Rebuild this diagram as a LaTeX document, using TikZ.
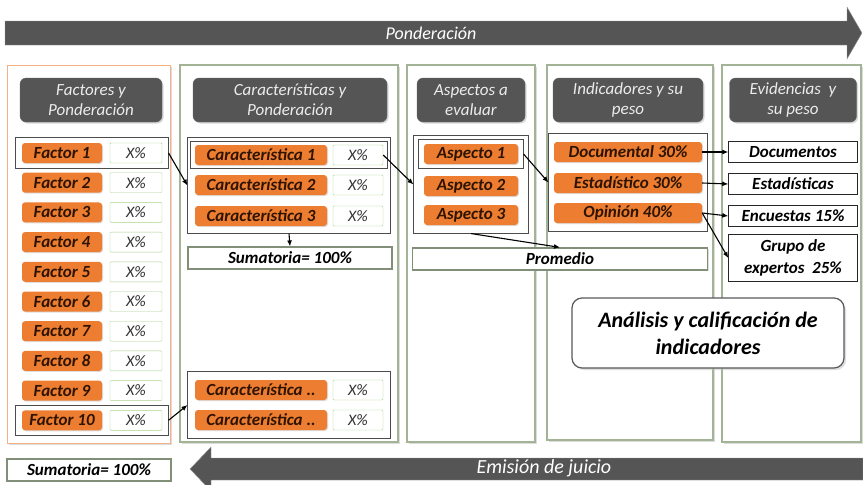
\documentclass[tikz,border=0pt]{standalone}
\usepackage{fontspec}
\setmainfont{Carlito}
\usetikzlibrary{arrows.meta,shadows,fit}
\definecolor{naranja}{HTML}{ED7D31}
\definecolor{gris}{HTML}{555555}
\definecolor{verdeborde}{HTML}{A3B396}
\definecolor{verdeclaro}{HTML}{A9D18E}
\definecolor{salmon}{HTML}{F4B183}
\definecolor{textonar}{HTML}{2E1400}
\tikzset{
  flechagris/.style={fill=gris, draw=black!40},
  flechatexto/.style={text=white, font=\fontsize{18}{20}\selectfont\itshape, inner sep=0pt},
  panel/.style={draw=verdeborde, line width=1.2pt, fill=white,
    drop shadow={shadow xshift=1.5pt, shadow yshift=-1.5pt, fill=gray!55}},
  cabecera/.style={rounded corners=6pt, fill=gris, draw=black!60, text=gray!15,
    font=\fontsize{17}{20}\selectfont\itshape, align=center, minimum height=44pt, inner sep=1pt,
    drop shadow={shadow xshift=1.5pt, shadow yshift=-1.5pt, fill=gray!60}},
  naranjabox/.style={rounded corners=3pt, fill=naranja, text=textonar, minimum height=20pt,
    font=\fontsize{17}{18}\selectfont\bfseries\itshape, inner sep=0pt,
    drop shadow={shadow xshift=1pt, shadow yshift=-1pt, fill=gray!50}},
  pct/.style={draw=verdeclaro, fill=white, rounded corners=1pt, minimum width=50pt,
    minimum height=20pt, inner sep=0pt, text=black!80, font=\fontsize{16}{18}\selectfont\itshape},
  marco/.style={draw=black!70, line width=0.7pt, inner sep=0pt},
  evid/.style={draw=black!85, fill=white, minimum width=129pt, minimum height=21pt, inner sep=0pt,
    align=center, font=\fontsize{17}{22}\selectfont\bfseries\itshape},
  suma/.style={draw=verdeborde!80!black, line width=1.2pt, fill=white, minimum height=22pt,
    inner sep=0pt, font=\fontsize{17}{19}\selectfont\bfseries\itshape,
    drop shadow={shadow xshift=1pt, shadow yshift=-1pt, fill=gray!50}},
  analisis/.style={draw=black!65, line width=1.2pt, fill=white, rounded corners=10pt,
    minimum width=272pt, minimum height=70pt, align=center,
    font=\fontsize{22}{27}\selectfont\bfseries\itshape,
    drop shadow={shadow xshift=2pt, shadow yshift=-2pt, fill=gray!50}},
  flecha/.style={-{Latex[length=6pt,width=5pt]}, line width=1.1pt, black}
}
\begin{document}
\begin{tikzpicture}[x=1pt,y=-1pt]
\useasboundingbox (0,0) rectangle (863,485);
\filldraw[flechagris] (5,21) -- (847,21) -- (847,7) -- (862,33) -- (847,59) -- (847,45) -- (5,45) -- cycle;
\node[flechatexto] (pond) at (431,33) {Ponderación};
\draw[panel, draw=salmon, line width=0.8pt] (7,65) rectangle (170,443);
\draw[panel] (180,65) rectangle (398,442);
\draw[panel] (407,65) rectangle (535,442);
\draw[panel] (547,65) rectangle (713,440);
\draw[panel] (722,65) rectangle (861,442);
\node[cabecera, minimum width=142pt] (h1) at (91,100) {Factores y\\Ponderación};
\node[cabecera, minimum width=194pt] (h2) at (290,100) {Características y\\Ponderación};
\node[cabecera, minimum width=108pt] (h3) at (471,100) {Aspectos a\\evaluar};
\node[cabecera, minimum width=150pt] (h4) at (628,100) {Indicadores y su\\peso};
\node[cabecera, minimum width=127pt] (h5) at (793,100) {Evidencias~ y\\su peso};
\foreach \i in {1,...,10}{
  \node[naranjabox, minimum width=80pt] (f\i) at (62,{153+29.7*(\i-1)}) {Factor \i};
  \node[pct, minimum width=52pt] (p\i) at (136,{153+29.7*(\i-1)}) {X\%};
}
\node[marco, fit=(f1)(p1), inner xsep=6pt, inner ysep=5pt] (m1) {};
\node[marco, fit=(f10)(p10), inner xsep=6pt, inner ysep=5pt] (m10) {};
\node[suma, minimum width=164pt] (s1) at (89,470) {Sumatoria= 100\%};
\foreach \i/\y in {1/155,2/185,3/216}{
  \node[naranjabox, minimum width=132pt] (c\i) at (261,\y) {Característica \i};
  \node[pct] (cp\i) at (358,\y) {X\%};
}
\node[marco, fit=(c1)(cp1), inner xsep=4pt, inner ysep=3pt] (mc1) {};
\node[marco, fit=(c1)(cp3), inner xsep=7pt, inner ysep=7pt] (gc) {};
\node[suma, minimum width=204pt] (s2) at (290,258) {Sumatoria= 100\%};
\foreach \i/\y in {1/390,2/420}{
  \node[naranjabox, minimum width=132pt] (cb\i) at (261,\y) {Característica ..};
  \node[pct] (cbp\i) at (358,\y) {X\%};
}
\node[marco, fit=(cb1)(cbp2), inner xsep=7pt, inner ysep=8pt] (gcb) {};
\foreach \i/\y in {1/154,2/186,3/215}
  \node[naranjabox, minimum width=94pt] (a\i) at (471,\y) {Aspecto \i};
\node[marco, fit=(a1), inner xsep=5pt, inner ysep=4pt] (ma1) {};
\node[marco, fit=(a1)(a3), inner xsep=10pt, inner ysep=8pt] (ga) {};
\node[suma, minimum width=295pt] (prom) at (560,259) {Promedio};
\node[naranjabox, minimum width=148pt] (ind1) at (628,152) {Documental 30\%};
\node[naranjabox, minimum width=148pt] (ind2) at (628,183) {Estadístico 30\%};
\node[naranjabox, minimum width=148pt] (ind3) at (628,213) {Opinión 40\%};
\node[marco, fit=(ind1)(ind3), inner xsep=5pt, inner ysep=8pt] (gi) {};
\node[evid] (ev1) at (793,152) {Documentos};
\node[evid] (ev2) at (793,184) {Estadísticas};
\node[evid] (ev3) at (793,216) {Encuestas 15\%};
\node[evid, minimum height=47pt] (ev4) at (793,258) {Grupo de\\expertos~~25\%};
\node[analisis] (an) at (708,333) {Análisis y calificación de\\indicadores};
\filldraw[flechagris] (863,458) -- (211,458) -- (211,447) -- (190,469) -- (211,491) -- (211,480) -- (863,480) -- cycle;
\node[flechatexto, font=\fontsize{20}{22}\selectfont\itshape] (emis) at (544,468) {Emisión de juicio};
\draw[flecha] (m1.east) -- (gc.west);
\draw[flecha] (m10.east) -- (gcb.west);
\draw[flecha] (gc.south) -- (s2.north);
\draw[flecha] (cp1.east) -- (ga.west);
\draw[flecha] (ma1.east) -- (gi.west);
\draw[flecha] (ga.south) -- (prom.north);
\draw[flecha] (ind1.east) -- (ev1.west);
\draw[flecha] (ind2.east) -- (ev2.west);
\draw[flecha] (ind3.east) -- (ev3.west);
\draw[flecha] (ind3.east) -- (ev4.west);
\end{tikzpicture}
\end{document}
